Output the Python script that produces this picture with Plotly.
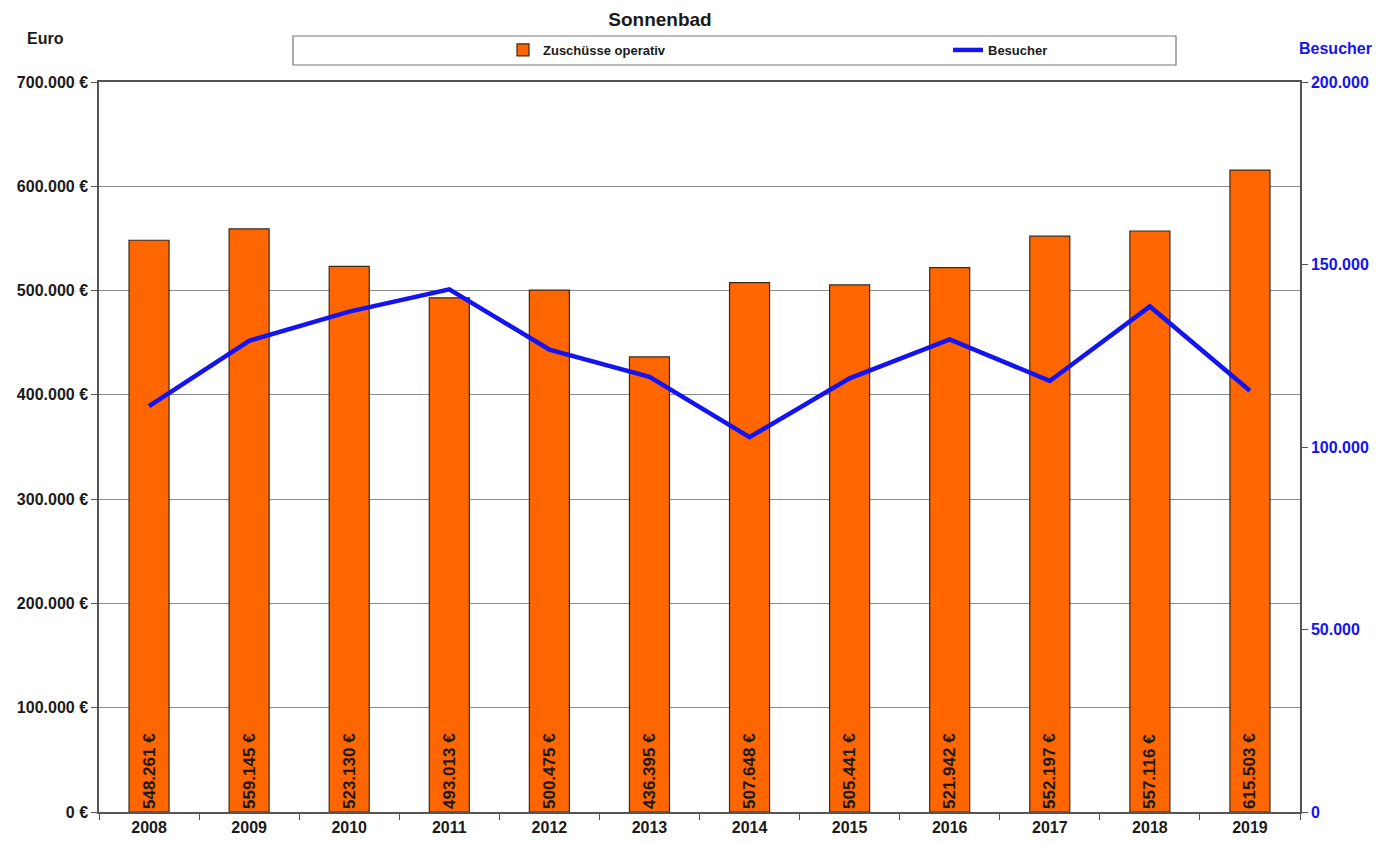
import plotly.graph_objects as go

years = ["2008", "2009", "2010", "2011", "2012", "2013", "2014", "2015", "2016", "2017", "2018", "2019"]
zuschuesse = [548261, 559145, 523130, 493013, 500475, 436395, 507648, 505441, 521942, 552197, 557116, 615503]
besucher = [111200, 129100, 137100, 143200, 126700, 119200, 102700, 118800, 129500, 118100, 138500, 115400]

FONT = "Liberation Sans, Arial, sans-serif"
ORANGE = "#FF6600"
BLUE = "#1414F0"
TXT = "#1a1a1a"

# page has an 8px body margin -> figure coords = page coords - 8
OFF = 8
W, H = 1386 - OFF, 843 - OFF
L, R, T, B = 99 - OFF, 1300 - OFF, 82 - OFF, 812 - OFF


def px_x(p):
    return (p - OFF - L) / (R - L)


def px_y(p):
    return (B - (p - OFF)) / (B - T)


fig = go.Figure()

fig.add_trace(go.Bar(
    x=years, y=zuschuesse, name="Zuschüsse operativ",
    marker=dict(color=ORANGE, line=dict(color="#3a2a1a", width=1.2)),
    width=0.4,
    texttemplate="%{y:,.0f} €",
    textposition="inside", insidetextanchor="start", textangle=-90,
    constraintext="none",
    textfont=dict(family=FONT, size=17, color=TXT, weight="bold"),
    cliponaxis=False,
))

fig.add_trace(go.Scatter(
    x=years, y=besucher, name="Besucher", yaxis="y2",
    mode="lines", line=dict(color=BLUE, width=4.5),
))

fig.update_layout(
    width=W, height=H,
    margin=dict(l=L, r=W - R, t=T, b=H - B, autoexpand=False),
    paper_bgcolor="white", plot_bgcolor="white",
    separators=",.",
    font=dict(family=FONT, size=14, color=TXT),
    title=dict(text="<b>Sonnenbad</b>", x=(660 - OFF) / W, xanchor="center",
               y=1 - (19 - OFF) / H, yanchor="middle",
               font=dict(family=FONT, size=19, color=TXT)),
    showlegend=True,
    legend=dict(orientation="h", x=px_x(503), xanchor="left",
                y=px_y(50), yanchor="middle",
                bgcolor="rgba(0,0,0,0)", borderwidth=0,
                entrywidth=400, entrywidthmode="pixels",
                itemwidth=30,
                font=dict(family=FONT, size=13, color=TXT, weight="bold")),
    xaxis=dict(
        type="category", showgrid=False,
        showline=True, linecolor="#555", linewidth=1.5, mirror=True,
        ticks="outside", tickson="boundaries", ticklen=6, tickcolor="#555",
        tickfont=dict(family=FONT, size=16, color=TXT, weight="bold"),
    ),
    yaxis=dict(
        range=[0, 700000], dtick=100000, tick0=0,
        tickformat=",.0f", ticksuffix=" €",
        showgrid=True, gridcolor="#8c8c8c", gridwidth=1.2,
        showline=True, linecolor="#555", linewidth=1.5,
        ticks="outside", ticklen=6, tickcolor="#555",
        tickfont=dict(family=FONT, size=16, color=TXT, weight="bold"),
        zeroline=False,
    ),
    yaxis2=dict(
        overlaying="y", side="right",
        range=[0, 200000], dtick=50000, tick0=0,
        tickformat=",.0f",
        showgrid=False, zeroline=False,
        showline=True, linecolor="#555", linewidth=1.5,
        ticks="outside", ticklen=6, tickcolor="#555",
        tickfont=dict(family=FONT, size=16, color=BLUE, weight="bold"),
    ),
    shapes=[
        dict(type="rect", xref="paper", yref="paper",
             x0=px_x(293), x1=px_x(1176), y0=px_y(65), y1=px_y(36),
             line=dict(color="#777", width=1.2), fillcolor="rgba(0,0,0,0)"),
    ],
    annotations=[
        dict(text="<b>Euro</b>", xref="paper", yref="paper",
             x=px_x(45), y=px_y(38), xanchor="center", yanchor="middle",
             showarrow=False, font=dict(family=FONT, size=16, color=TXT)),
        dict(text="<b>Besucher</b>", xref="paper", yref="paper",
             x=px_x(1336), y=px_y(48), xanchor="center", yanchor="middle",
             showarrow=False, font=dict(family=FONT, size=16, color=BLUE)),
    ],
)

fig.write_html("out.html")
